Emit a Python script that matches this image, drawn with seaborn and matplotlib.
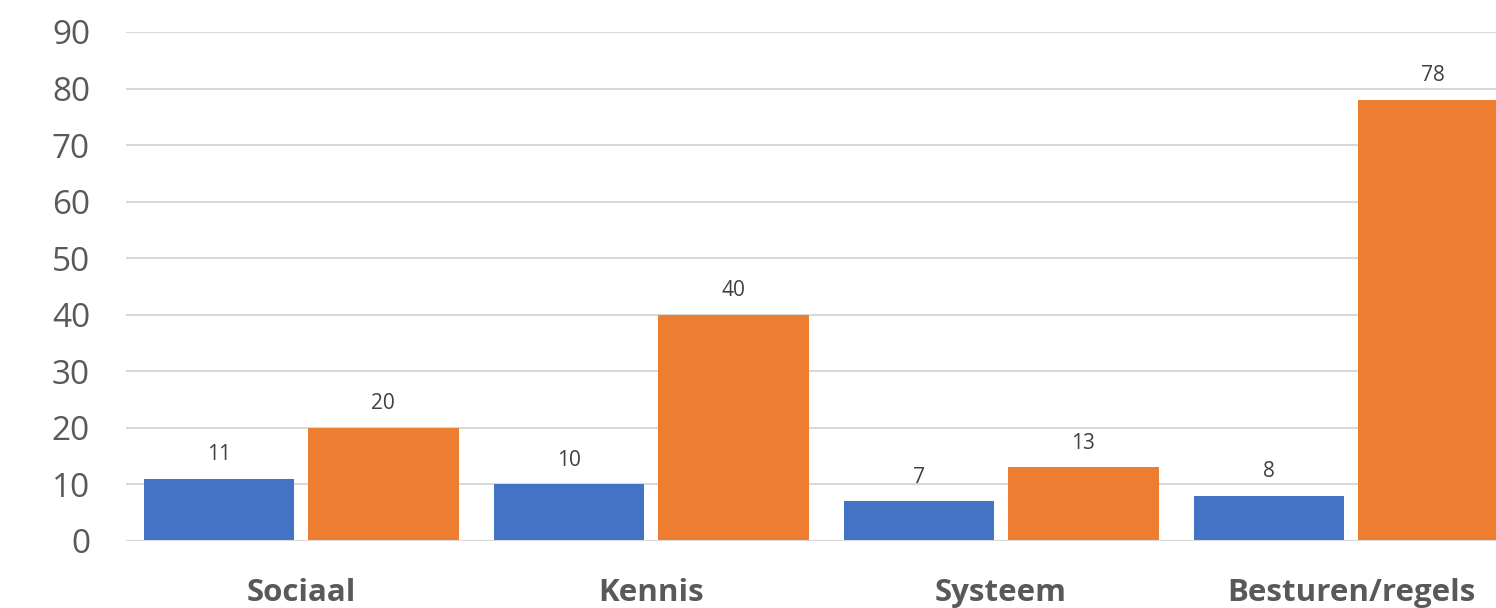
import matplotlib
matplotlib.use("Agg")
import matplotlib.pyplot as plt
import seaborn as sns
import pandas as pd

categories = ["Sociaal", "Kennis", "Systeem", "Besturen/regels"]
series_names = ["Reeks 1", "Reeks 2"]
values_1 = [11, 10, 7, 8]
values_2 = [20, 40, 13, 78]
y_ticks = [0, 10, 20, 30, 40, 50, 60, 70, 80, 90]

df = pd.DataFrame({
    "categorie": categories * 2,
    "reeks": [series_names[0]] * len(categories) + [series_names[1]] * len(categories),
    "waarde": values_1 + values_2,
})

sns.set_theme(style="white")
plt.rcParams["font.family"] = ["Open Sans", "DejaVu Sans"]

fig = plt.figure(figsize=(14.96, 6.08), dpi=100)
ax = fig.add_axes([0.0843, 0.1102, 0.9358, 0.8372])

sns.barplot(
    data=df, x="categorie", y="waarde", hue="reeks",
    palette=["#4472C4", "#ED7D31"], width=0.94, gap=0.085,
    legend=False, ax=ax, zorder=2, saturation=1, linewidth=0,
)

ax.set_xlim(-0.5, 3.5)
ax.set_ylim(0, 90)
ax.set_yticks(y_ticks)
ax.yaxis.grid(True, color="#d9d9d9", linewidth=1.5, zorder=0)
ax.set_axisbelow(True)
ax.axhline(0, color="#d9d9d9", linewidth=1.5, zorder=3)
for s in ax.spines.values():
    s.set_visible(False)

ax.set_xlabel("")
ax.set_ylabel("")
ax.tick_params(axis="y", length=0, pad=26, labelsize=24, labelcolor="#595959")
ax.tick_params(axis="x", length=0, pad=27, labelsize=22.5, labelcolor="#595959")
for lbl in ax.get_xticklabels():
    lbl.set_fontweight("bold")

for cont in ax.containers:
    ax.bar_label(cont, fmt="%d", padding=10, fontsize=15, color="#404040")

fig.savefig("out.png", dpi=100)
